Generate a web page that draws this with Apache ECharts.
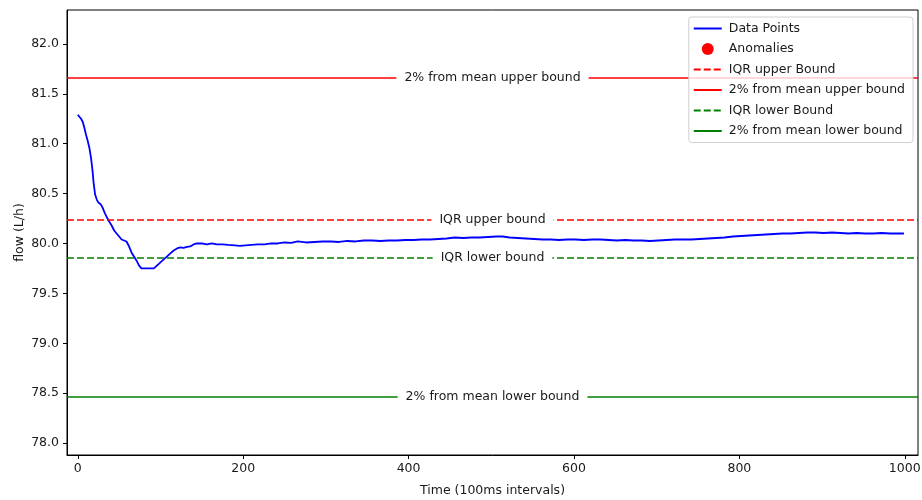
<!DOCTYPE html>
<html>
<head>
<meta charset="utf-8">
<script src="https://cdn.jsdelivr.net/npm/echarts@6/dist/echarts.min.js"></script>
<style>
  html, body { margin: 0; padding: 0; background: #fff; }
  #chart { width: 922px; height: 500px; }
</style>
</head>
<body>
<div id="chart"></div>
<script>
// Sample index (100 ms steps) of the flow readings
const timeIdx = [
  0, 2, 4, 6, 8, 10, 12, 14, 16, 18, 19, 21, 23, 25, 28, 30, 33, 36, 38, 41,
  44, 47, 50, 53, 56, 59, 62, 65, 68, 71, 74, 77, 82, 87, 92, 96, 100, 104, 108, 112,
  116, 120, 124, 128, 132, 136, 140, 144, 150, 156, 162, 168, 175, 182, 190, 196, 203, 210, 218, 226,
  234, 242, 250, 258, 266, 276, 286, 296, 306, 316, 326, 336, 346, 356, 366, 376, 386, 396, 406, 416,
  426, 436, 446, 456, 466, 476, 486, 496, 506, 514, 522, 532, 542, 552, 562, 572, 582, 592, 602, 612,
  622, 632, 642, 652, 662, 672, 682, 692, 702, 712, 722, 732, 742, 752, 762, 772, 782, 792, 802, 812,
  822, 832, 842, 852, 862, 872, 882, 892, 902, 912, 922, 932, 942, 952, 962, 972, 982, 992, 999
];
// Measured flow (L/h)
const flowVals = [
  81.29, 81.27, 81.25, 81.22, 81.16, 81.09, 81.03, 80.96, 80.86, 80.72, 80.62, 80.49, 80.44, 80.41, 80.39, 80.36, 80.30, 80.25, 80.22, 80.18,
  80.13, 80.10, 80.07, 80.04, 80.03, 80.02, 79.97, 79.91, 79.87, 79.83, 79.78, 79.75, 79.75, 79.75, 79.75, 79.78, 79.81, 79.84, 79.87, 79.90,
  79.93, 79.95, 79.96, 79.955, 79.965, 79.97, 79.99, 80.00, 80.00, 79.99, 80.00, 79.99, 79.99, 79.985, 79.98, 79.975, 79.98, 79.985, 79.99, 79.99,
  80.00, 80.00, 80.01, 80.005, 80.02, 80.01, 80.015, 80.02, 80.02, 80.015, 80.025, 80.02, 80.03, 80.03, 80.025, 80.03, 80.03, 80.035, 80.035, 80.04,
  80.04, 80.045, 80.05, 80.06, 80.055, 80.06, 80.06, 80.065, 80.07, 80.07, 80.06, 80.055, 80.05, 80.045, 80.04, 80.04, 80.035, 80.04, 80.04, 80.035,
  80.04, 80.04, 80.035, 80.03, 80.035, 80.03, 80.03, 80.025, 80.03, 80.035, 80.04, 80.04, 80.04, 80.045, 80.05, 80.055, 80.06, 80.07, 80.075, 80.08,
  80.085, 80.09, 80.095, 80.10, 80.10, 80.105, 80.11, 80.11, 80.105, 80.11, 80.105, 80.10, 80.105, 80.10, 80.10, 80.105, 80.10, 80.10, 80.10
];
// Reference bounds
const pctUpperBound = 81.66;
const pctLowerBound = 78.46;
const iqrUpperBound = 80.24;
const iqrLowerBound = 79.86;
// Anomalous samples (none flagged)
const anomalies = [];

// Axis ticks
const xTicks = [0, 200, 400, 600, 800, 1000];
const yTicks = [78.0, 78.5, 79.0, 79.5, 80.0, 80.5, 81.0, 81.5, 82.0];

const FONT = 'DejaVu Sans';
const FS = 12.5;
const TXT = '#1a1a1a';

const flowData = timeIdx.map((t, i) => [t, flowVals[i]]);

function boundSeries(name, value, color, dashed, text) {
  const ls = { color: color, width: 1.6, type: dashed ? [7, 3] : 'solid' };
  return {
    name: name,
    type: 'line',
    symbol: 'none',
    data: [],
    lineStyle: ls,
    itemStyle: { color: color },
    z: 3,
    markLine: {
      silent: true,
      symbol: ['none', 'none'],
      animation: false,
      lineStyle: ls,
      label: {
        show: true,
        position: 'middle',
        verticalAlign: 'middle',
        formatter: text,
        color: TXT,
        fontFamily: FONT,
        fontSize: FS,
        backgroundColor: '#fff',
        padding: [2, 8, 2, 8],
        distance: 0
      },
      emphasis: { disabled: true },
      data: [{ yAxis: value }]
    }
  };
}

// legend entries for lines carry no marker dot
const lineEntry = name => ({ name: name, itemStyle: { opacity: 0 } });

const chart = echarts.init(document.getElementById('chart'), null, { renderer: 'canvas' });
chart.setOption({
  animation: false,
  backgroundColor: '#fff',
  textStyle: { fontFamily: FONT },
  grid: {
    left: 67, right: 4, top: 10, bottom: 45,
    outerBoundsMode: 'none',
    show: true, borderColor: '#000', borderWidth: 1
  },
  xAxis: {
    type: 'value',
    min: -13, max: 1016,
    name: 'Time (100ms intervals)',
    nameLocation: 'middle',
    nameGap: 29,
    nameMoveOverlap: false,
    nameTextStyle: { color: TXT, fontSize: FS, fontFamily: FONT },
    axisLine: { show: true, onZero: false, lineStyle: { color: '#000', width: 1 } },
    axisTick: { show: true, length: 4, customValues: xTicks, lineStyle: { color: '#000' } },
    axisLabel: {
      customValues: xTicks, color: TXT, fontSize: FS, fontFamily: FONT, margin: 7,
      formatter: v => String(v)
    },
    splitLine: { show: false }
  },
  yAxis: {
    type: 'value',
    min: 77.88, max: 82.34,
    name: 'flow (L/h)',
    nameLocation: 'middle',
    nameGap: 41,
    nameMoveOverlap: false,
    nameTextStyle: { color: TXT, fontSize: FS, fontFamily: FONT },
    axisLine: { show: true, onZero: false, lineStyle: { color: '#000', width: 1 } },
    axisTick: { show: true, length: 4, customValues: yTicks, lineStyle: { color: '#000' } },
    axisLabel: {
      customValues: yTicks, color: TXT, fontSize: FS, fontFamily: FONT, margin: 8,
      formatter: v => v.toFixed(1)
    },
    splitLine: { show: false }
  },
  legend: {
    orient: 'vertical',
    right: 9, top: 17,
    itemWidth: 28, itemHeight: 12, itemGap: 7.5,
    padding: [5, 8, 5, 4],
    backgroundColor: 'rgba(255,255,255,0.8)',
    borderColor: '#d0d0d0', borderWidth: 1, borderRadius: 3,
    textStyle: { color: TXT, fontSize: FS, fontFamily: FONT, padding: [0, 0, 0, 2] },
    data: [
      lineEntry('Data Points'),
      { name: 'Anomalies', icon: 'circle' },
      lineEntry('IQR upper Bound'),
      lineEntry('2% from mean upper bound'),
      lineEntry('IQR lower Bound'),
      lineEntry('2% from mean lower bound')
    ],
    z: 10
  },
  series: [
    {
      name: 'Data Points',
      type: 'line',
      symbol: 'none',
      data: flowData,
      lineStyle: { color: '#0000ff', width: 1.8 },
      itemStyle: { color: '#0000ff' },
      z: 2
    },
    {
      name: 'Anomalies',
      type: 'scatter',
      symbol: 'circle',
      symbolSize: 8,
      data: anomalies,
      itemStyle: { color: '#ff0000', opacity: 1 }
    },
    boundSeries('IQR upper Bound', iqrUpperBound, '#ff0000', true, 'IQR upper bound'),
    boundSeries('2% from mean upper bound', pctUpperBound, '#ff0000', false, '2% from mean upper bound'),
    boundSeries('IQR lower Bound', iqrLowerBound, '#008000', true, 'IQR lower bound'),
    boundSeries('2% from mean lower bound', pctLowerBound, '#008000', false, '2% from mean lower bound')
  ]
});
</script>
</body>
</html>
